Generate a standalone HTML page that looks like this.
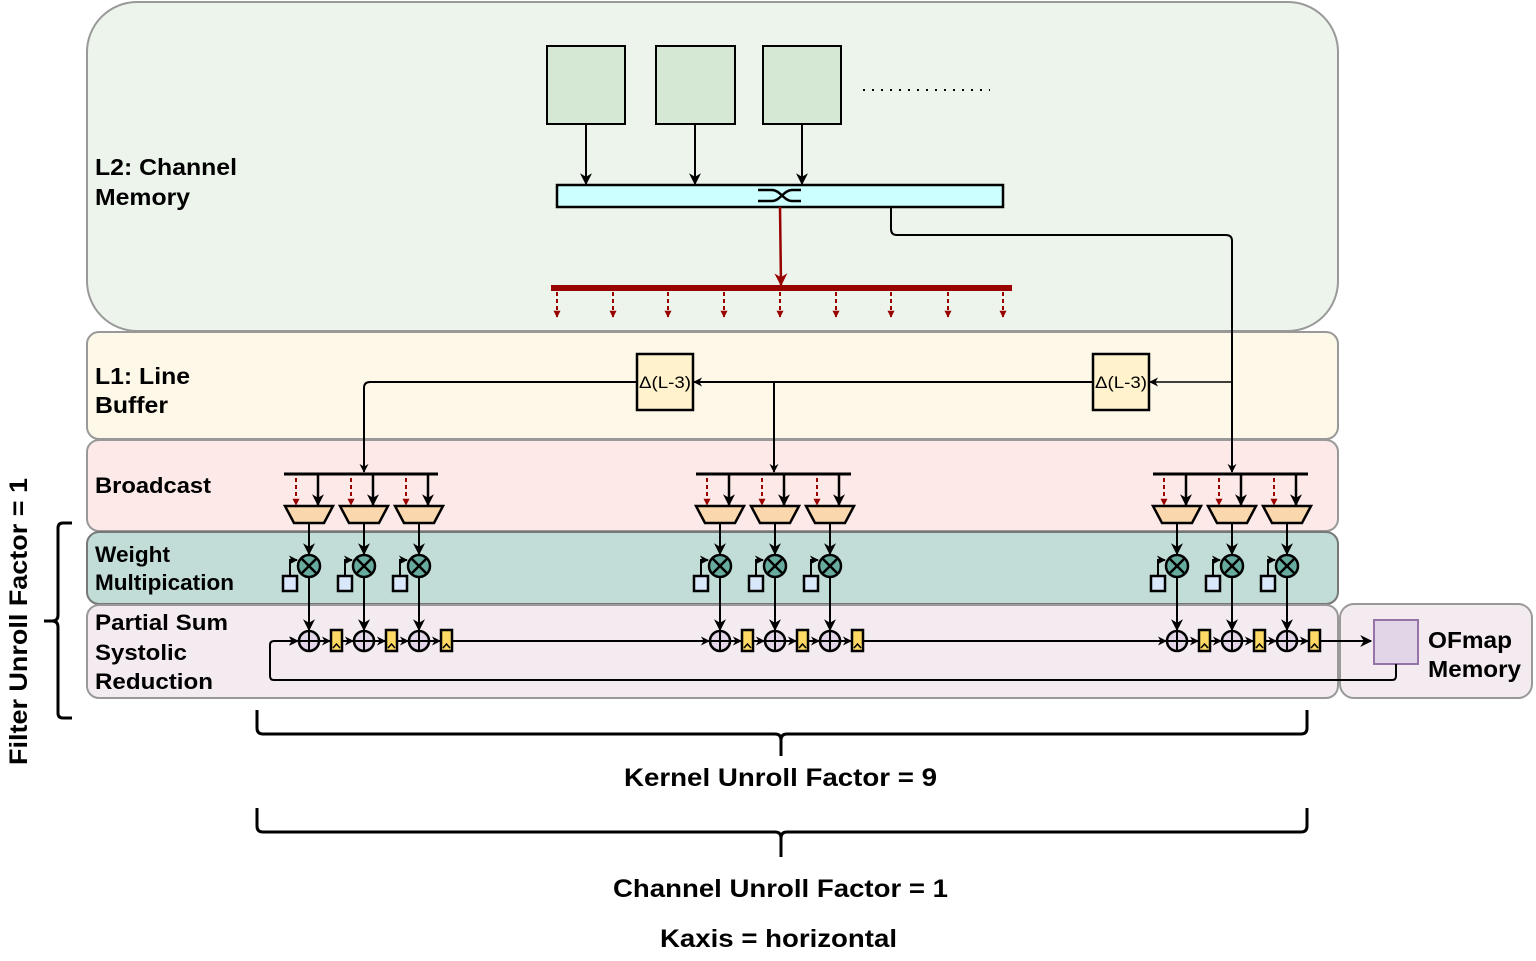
<!DOCTYPE html>
<html><head><meta charset="utf-8"><style>
html,body{margin:0;padding:0;background:#fff;width:1536px;height:961px;overflow:hidden}
svg{display:block}
text{font-family:"Liberation Sans",Arial,sans-serif;font-weight:bold;fill:#000}
</style></head><body>
<svg id="s" width="1536" height="961" viewBox="0 0 1536 961" xmlns="http://www.w3.org/2000/svg">
<defs>
<marker id="a" viewBox="0 0 10 10" refX="9" refY="5" markerWidth="9" markerHeight="9" orient="auto" markerUnits="userSpaceOnUse"><path d="M0,0 L10,5 L0,10 L3,5z" fill="#000"/></marker>
<marker id="ab" viewBox="0 0 10 10" refX="9" refY="5" markerWidth="12" markerHeight="12" orient="auto" markerUnits="userSpaceOnUse"><path d="M0,0 L10,5 L0,10 L3,5z" fill="#000"/></marker>
<marker id="r" viewBox="0 0 10 10" refX="9" refY="5" markerWidth="7" markerHeight="7" orient="auto" markerUnits="userSpaceOnUse"><path d="M0,0 L10,5 L0,10z" fill="#990000"/></marker>
<marker id="rb" viewBox="0 0 10 10" refX="9" refY="5" markerWidth="13" markerHeight="13" orient="auto" markerUnits="userSpaceOnUse"><path d="M0,0 L10,5 L0,10 L3,5z" fill="#990000"/></marker>
</defs>
<rect x="87" y="2" width="1251" height="329" rx="50" fill="#edf4ec" stroke="#999" stroke-width="2"/>
<rect x="87" y="332" width="1251" height="107" rx="12" fill="#fef8e9" stroke="#999" stroke-width="2"/>
<rect x="87" y="440" width="1251" height="91" rx="12" fill="#fde9e7" stroke="#999" stroke-width="2"/>
<rect x="87" y="532" width="1251" height="72" rx="12" fill="#c2ddd7" stroke="#777" stroke-width="2"/>
<rect x="87" y="605" width="1251" height="93" rx="12" fill="#f3ebf0" stroke="#999" stroke-width="2"/>
<rect x="1340" y="604" width="192" height="94" rx="14" fill="#f3ebf0" stroke="#999" stroke-width="2"/>

<text x="95" y="175" font-size="23" textLength="142" lengthAdjust="spacingAndGlyphs">L2: Channel</text>
<text x="95" y="205" font-size="23" textLength="95" lengthAdjust="spacingAndGlyphs">Memory</text>
<text x="95" y="384" font-size="23" textLength="95" lengthAdjust="spacingAndGlyphs">L1: Line</text>
<text x="95" y="413" font-size="23" textLength="73" lengthAdjust="spacingAndGlyphs">Buffer</text>
<text x="95" y="493" font-size="22" textLength="116" lengthAdjust="spacingAndGlyphs">Broadcast</text>
<text x="95" y="562" font-size="22" textLength="75" lengthAdjust="spacingAndGlyphs">Weight</text>
<text x="95" y="590" font-size="22" textLength="139" lengthAdjust="spacingAndGlyphs">Multipication</text>
<text x="95" y="630" font-size="22" textLength="133" lengthAdjust="spacingAndGlyphs">Partial Sum</text>
<text x="95" y="660" font-size="22" textLength="92" lengthAdjust="spacingAndGlyphs">Systolic</text>
<text x="95" y="689" font-size="22" textLength="118" lengthAdjust="spacingAndGlyphs">Reduction</text>
<text x="1428" y="648" font-size="23" textLength="84" lengthAdjust="spacingAndGlyphs">OFmap</text>
<text x="1428" y="677" font-size="23" textLength="93" lengthAdjust="spacingAndGlyphs">Memory</text>

<rect x="547" y="46" width="78" height="78" fill="#d5e8d4" stroke="#000" stroke-width="2"/>
<rect x="656" y="46" width="79" height="78" fill="#d5e8d4" stroke="#000" stroke-width="2"/>
<rect x="763" y="46" width="78" height="78" fill="#d5e8d4" stroke="#000" stroke-width="2"/>
<line x1="863" y1="90" x2="990" y2="90" stroke="#000" stroke-width="2" stroke-dasharray="2,7"/>
<line x1="586" y1="124" x2="586" y2="184" stroke="#000" stroke-width="2" marker-end="url(#ab)"/>
<line x1="695" y1="124" x2="695" y2="184" stroke="#000" stroke-width="2" marker-end="url(#ab)"/>
<line x1="802" y1="124" x2="802" y2="184" stroke="#000" stroke-width="2" marker-end="url(#ab)"/>
<rect x="557" y="185" width="446" height="22" fill="#ccffff" stroke="#000" stroke-width="2.5"/>
<path d="M758,190 H772 C780,190 784,201 792,201 H801 M758,201 H772 C780,201 784,190 792,190 H801" fill="none" stroke="#000" stroke-width="2.5"/>
<line x1="780" y1="207" x2="781" y2="285" stroke="#990000" stroke-width="2.5" marker-end="url(#rb)"/>
<rect x="551" y="285" width="461" height="6" fill="#990000"/>
<g id="reddash"></g>
<path d="M891,207 V229 Q891,235 897,235 H1226 Q1232,235 1232,241 V472" fill="none" stroke="#000" stroke-width="2" marker-end="url(#a)"/>

<line x1="1232" y1="382" x2="1150" y2="382" stroke="#000" stroke-width="1.5" marker-end="url(#a)"/>
<rect x="1093" y="354" width="56" height="56" fill="#fff2cc" stroke="#000" stroke-width="2.5"/>
<text x="1121" y="388" font-size="17" text-anchor="middle" textLength="52" lengthAdjust="spacingAndGlyphs" style="font-weight:normal">Δ(L-3)</text>
<line x1="1093" y1="382" x2="694" y2="382" stroke="#000" stroke-width="2" marker-end="url(#a)"/>
<path d="M774,382 V472" fill="none" stroke="#000" stroke-width="2" marker-end="url(#a)"/>
<rect x="637" y="354" width="56" height="56" fill="#fff2cc" stroke="#000" stroke-width="2.5"/>
<text x="665" y="388" font-size="17" text-anchor="middle" textLength="52" lengthAdjust="spacingAndGlyphs" style="font-weight:normal">Δ(L-3)</text>
<path d="M637,382 H370 Q364,382 364,388 V472" fill="none" stroke="#000" stroke-width="2" marker-end="url(#a)"/>

<g id="units"></g>

<rect x="1374" y="620" width="44" height="44" fill="#e1d5e7" stroke="#9673a6" stroke-width="2"/>
<path d="M1396,664 V676 Q1396,680 1392,680 H274 Q270,680 270,676 V645 Q270,641 274,641 H297" fill="none" stroke="#000" stroke-width="2" marker-end="url(#a)"/>

<path d="M257,710 V728 Q257,734 263,734 H775 Q781,734 781,740 V756 M781,740 Q781,734 787,734 H1301 Q1307,734 1307,728 V710" fill="none" stroke="#000" stroke-width="3"/>
<path d="M257,808 V826 Q257,832 263,832 H775 Q781,832 781,838 V857 M781,838 Q781,832 787,832 H1301 Q1307,832 1307,826 V808" fill="none" stroke="#000" stroke-width="3"/>
<path d="M72,523 H63 Q58,523 58,528 V615 Q58,621 52,621 H44 M52,621 Q58,621 58,627 V713 Q58,718 63,718 H72" fill="none" stroke="#000" stroke-width="3"/>

<text x="624" y="786" font-size="25" textLength="313" lengthAdjust="spacingAndGlyphs">Kernel Unroll Factor = 9</text>
<text x="613" y="897" font-size="25" textLength="335" lengthAdjust="spacingAndGlyphs">Channel Unroll Factor = 1</text>
<text x="660" y="947" font-size="25" textLength="237" lengthAdjust="spacingAndGlyphs">Kaxis = horizontal</text>
<text x="0" y="0" font-size="25" textLength="287" lengthAdjust="spacingAndGlyphs" transform="translate(27,765) rotate(-90)">Filter Unroll Factor = 1</text>
</svg>
<script>
var NS="http://www.w3.org/2000/svg";
function el(p,t,a){var e=document.createElementNS(NS,t);for(var k in a)e.setAttribute(k,a[k]);p.appendChild(e);return e;}
var rd=document.getElementById("reddash");
[557,613,668,724,780,836,891,948,1003].forEach(function(x){
 el(rd,"line",{x1:x,y1:292,x2:x,y2:317,stroke:"#990000","stroke-width":2,"stroke-dasharray":"4,3","marker-end":"url(#r)"});
});
var u=document.getElementById("units");
var groups=[[284,438,[309,364,419]],[696,851,[720,775,830]],[1153,1308,[1177,1232,1287]]];
el(u,"line",{x1:341,y1:641,x2:1371,y2:641,stroke:"#000","stroke-width":2,"marker-end":"url(#ab)"});
groups.forEach(function(g){
 el(u,"line",{x1:g[0],y1:474,x2:g[1],y2:474,stroke:"#000","stroke-width":3});
 g[2].forEach(function(c){
  el(u,"line",{x1:c-13,y1:478,x2:c-13,y2:505,stroke:"#990000","stroke-width":2,"stroke-dasharray":"4,3","marker-end":"url(#r)"});
  el(u,"line",{x1:c+9,y1:474,x2:c+9,y2:505,stroke:"#000","stroke-width":2.5,"marker-end":"url(#ab)"});
  el(u,"path",{d:"M"+(c-24)+",506 H"+(c+24)+" L"+(c+15)+",523 H"+(c-15)+"Z",fill:"#fad7ac",stroke:"#000","stroke-width":2.5});
  el(u,"line",{x1:c,y1:523,x2:c,y2:554,stroke:"#000","stroke-width":2,"marker-end":"url(#ab)"});
  el(u,"line",{x1:c,y1:577,x2:c,y2:630,stroke:"#000","stroke-width":2,"marker-end":"url(#ab)"});
  el(u,"circle",{cx:c,cy:566,r:11,fill:"#67ab9f",stroke:"#000","stroke-width":2.5});
  el(u,"path",{d:"M"+(c-8)+","+(566-8)+" L"+(c+8)+","+(566+8)+" M"+(c+8)+","+(566-8)+" L"+(c-8)+","+(566+8),stroke:"#000","stroke-width":2.5});
  el(u,"path",{d:"M"+(c-19)+",576 V560 H"+(c-12),fill:"none",stroke:"#000","stroke-width":2,"marker-end":"url(#a)"});
  el(u,"rect",{x:c-26,y:576,width:14,height:15,fill:"#dae8fc",stroke:"#000","stroke-width":2.5});
  el(u,"line",{x1:c-20,y1:641,x2:c-11,y2:641,stroke:"#000","stroke-width":2,"marker-end":"url(#a)"});
  el(u,"circle",{cx:c,cy:641,r:10,fill:"#e1d5e7",stroke:"#000","stroke-width":2.5});
  el(u,"path",{d:"M"+(c-10)+",641 H"+(c+10)+" M"+c+",631 V651",stroke:"#000","stroke-width":2});
  el(u,"line",{x1:c+10,y1:641,x2:c+21,y2:641,stroke:"#000","stroke-width":2,"marker-end":"url(#a)"});
  el(u,"rect",{x:c+22,y:630,width:11,height:21,fill:"#ffd966",stroke:"#000","stroke-width":2.5});
  el(u,"path",{d:"M"+(c+24)+",648 L"+(c+27.5)+",644 L"+(c+31)+",648",fill:"none",stroke:"#000","stroke-width":1.5});
 });
});
</script>
</body></html>
